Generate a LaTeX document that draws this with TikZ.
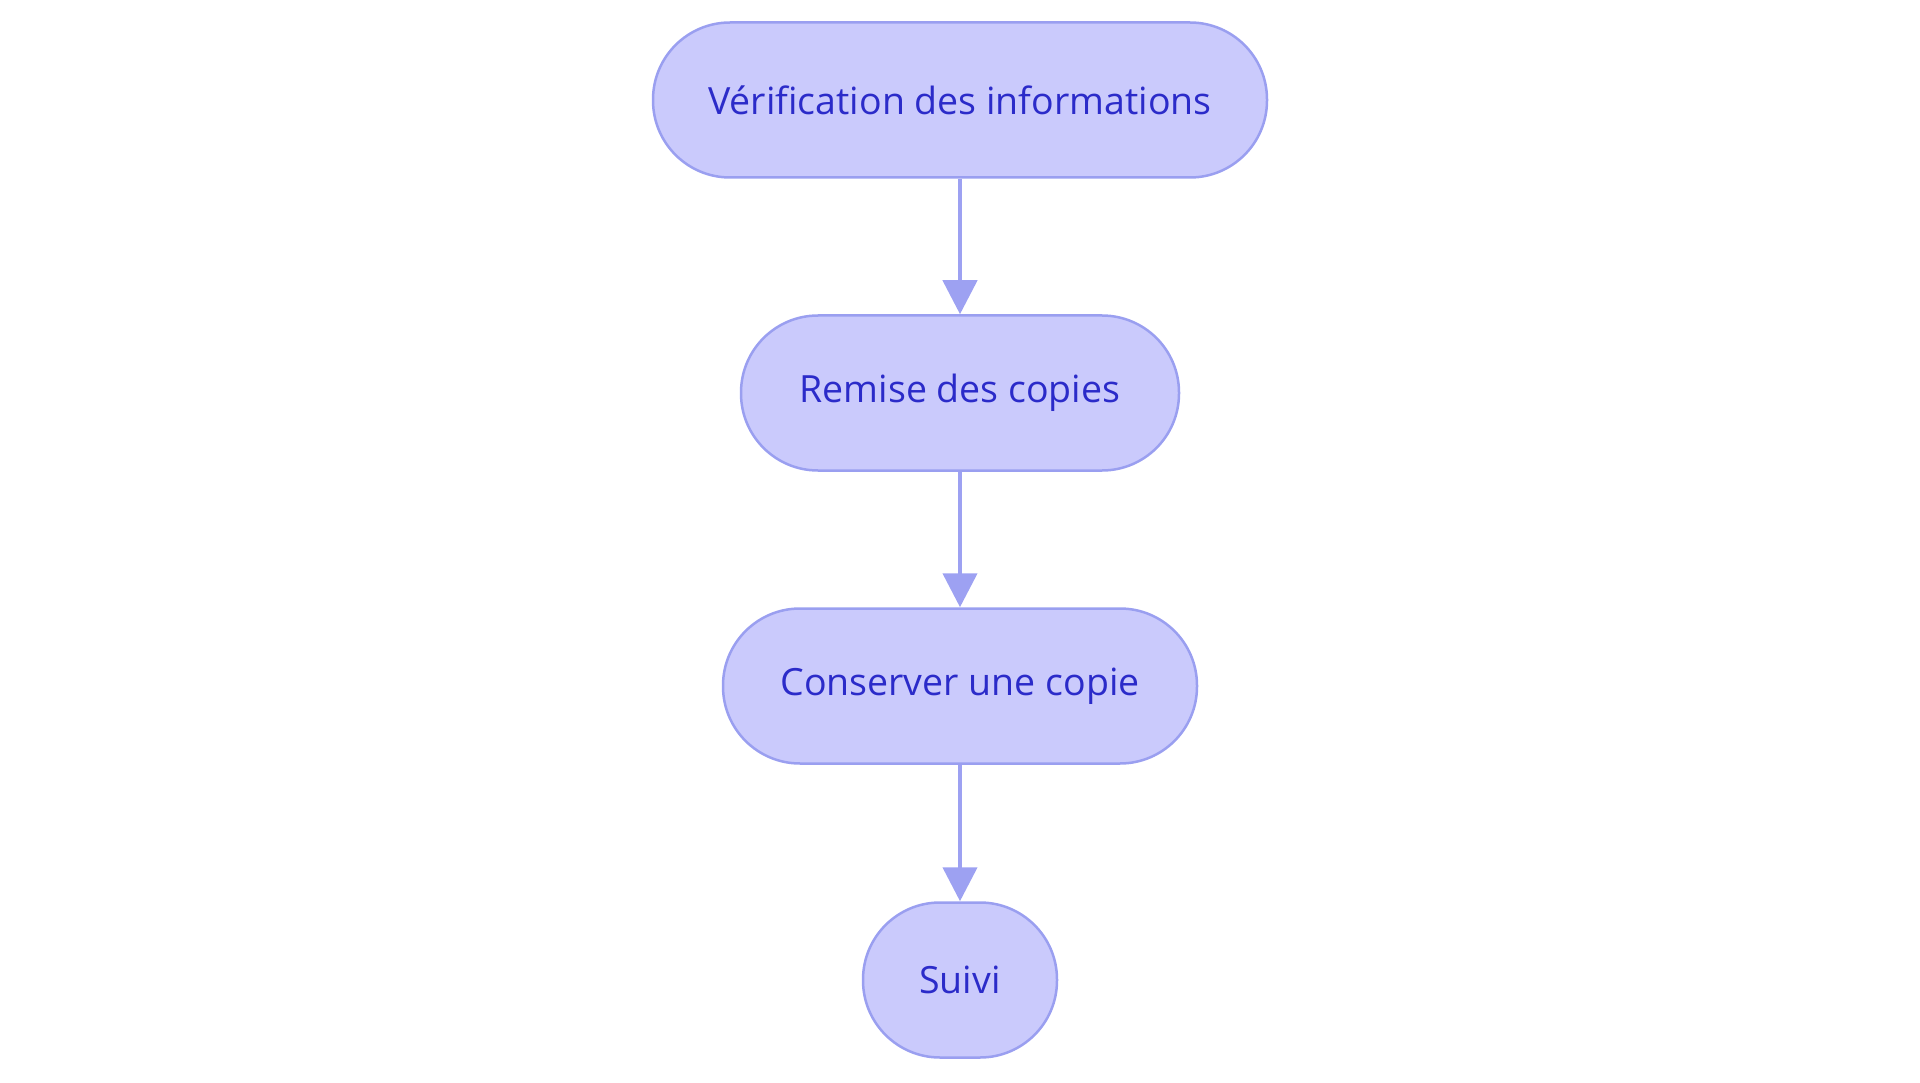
\documentclass[tikz,border=0pt]{standalone}
\usepackage{fontspec}
\setmainfont{Open Sans}[Ligatures={NoCommon}]
\usetikzlibrary{arrows.meta}
\definecolor{nodefill}{HTML}{CACAFC}
\definecolor{nodeline}{HTML}{9A9FF0}
\definecolor{arrowcol}{HTML}{9DA1F2}
\definecolor{textcol}{HTML}{2B2BC9}
\tikzset{
  stadium/.style={draw=nodeline, fill=nodefill, line width=2.5pt, rounded corners=77pt,
    minimum height=155pt, inner sep=0pt, text=textcol,
    font=\fontsize{37.5pt}{42pt}\selectfont},
  flowarrow/.style={draw=arrowcol, line width=4.5pt, -{Triangle[length=34pt,width=34pt]}}
}
\begin{document}
\begin{tikzpicture}[x=1pt,y=-1pt]
\useasboundingbox (0,0) rectangle (1920,1083);
\node[stadium, minimum width=614pt] (a) at (960,100) {Vérification des informations};
\node[stadium, minimum width=438pt] (b) at (960,393) {Remise des copies};
\node[stadium, minimum width=474pt] (c) at (960,686) {Conserver une copie};
\node[stadium, minimum width=194pt] (d) at (960,980) {Suivi};
\draw[flowarrow] (a.south) -- (b.north);
\draw[flowarrow] (b.south) -- (c.north);
\draw[flowarrow] (c.south) -- (d.north);
\end{tikzpicture}
\end{document}
